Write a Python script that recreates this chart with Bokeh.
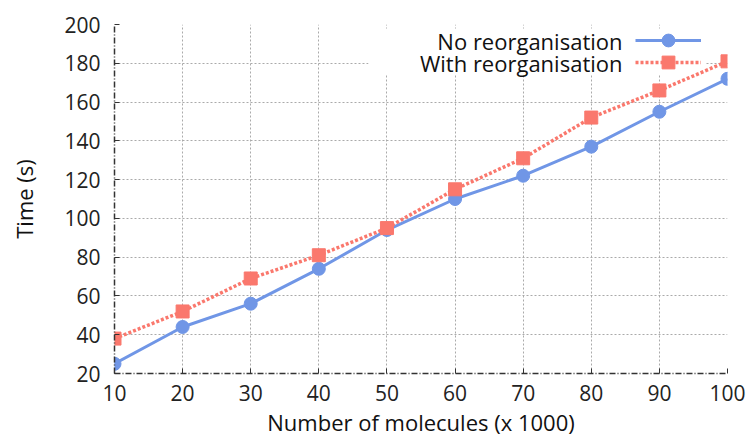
from bokeh.plotting import figure
from bokeh.models import Label, BoxAnnotation, Legend, LegendItem, Range1d, FixedTicker
from bokeh.embed import file_html
from bokeh.resources import INLINE

molecules = [10, 20, 30, 40, 50, 60, 70, 80, 90, 100]
no_reorg = [25, 44, 56, 74, 94, 110, 122, 137, 155, 172]
with_reorg = [38, 52, 69, 81, 95, 115, 131, 152, 166, 181]
x_ticks = [10, 20, 30, 40, 50, 60, 70, 80, 90, 100]
y_ticks = [20, 40, 60, 80, 100, 120, 140, 160, 180, 200]
series_names = ["No reorganisation", "With reorganisation"]
x_title = "Number of molecules (x 1000)"
y_title = "Time (s)"

BLUE = "#7096E6"
RED = "#FA786D"
FONT = "Open Sans"
W, H = 751, 439

p = figure(width=W, height=H, output_backend="svg", toolbar_location=None,
           x_range=Range1d(10, 100), y_range=Range1d(20, 200),
           min_border_left=114, min_border_right=24, min_border_top=24, min_border_bottom=66)
p.outline_line_color = None
p.background_fill_color = "white"

for ax in (p.xaxis[0], p.yaxis[0]):
    ax.axis_line_color = "#333333"
    ax.axis_line_dash = "6 2 1 2"
    ax.axis_line_width = 1.5
    ax.major_tick_in = 5
    ax.major_tick_out = 0
    ax.major_tick_line_color = "#333333"
    ax.minor_tick_line_color = None
    ax.major_label_text_font = FONT
    ax.major_label_text_font_size = "21px"
    ax.major_label_text_color = "#222222"
    ax.axis_label_text_font = FONT
    ax.axis_label_text_font_size = "22px"
    ax.axis_label_text_font_style = "normal"
    ax.axis_label_text_color = "#111111"

p.xaxis.ticker = FixedTicker(ticks=x_ticks)
p.yaxis.ticker = FixedTicker(ticks=y_ticks)
p.xaxis.axis_label = x_title
p.yaxis.axis_label = y_title
p.xaxis.major_label_text_line_height = 0.6
p.xaxis.axis_label_text_line_height = 0.6
p.xaxis.major_label_standoff = 11
p.xaxis.axis_label_standoff = 3
p.yaxis.major_label_standoff = 14
p.yaxis.axis_label_standoff = 22

for g in (p.xgrid[0], p.ygrid[0]):
    g.grid_line_color = "#aaaaaa"
    g.grid_line_dash = "2 2"
    g.grid_line_width = 1

# legend background (hides grid); screen units are frame-relative
p.add_layout(BoxAnnotation(left=254, right=591, top=345, bottom=299,
                           left_units="screen", right_units="screen",
                           top_units="screen", bottom_units="screen",
                           fill_color="white", fill_alpha=1, line_alpha=0, level="underlay"))

l1 = p.line(molecules, no_reorg, line_color=BLUE, line_width=3)
s1 = p.scatter(molecules, no_reorg, marker="circle", size=13, fill_color=BLUE, line_color=BLUE)
l2 = p.line(molecules, with_reorg, line_color=RED, line_width=3.5, line_dash="3 2")
s2 = p.scatter(molecules, with_reorg, marker="square", size=13, fill_color=RED, line_color=RED)

# one legend per row, glyph sample on the right of the text
for i, rs in enumerate([[l1, s1], [l2, s2]]):
    lg = Legend(items=[LegendItem(label=" ", renderers=rs)],
                location=(521, 317 - 22 * i), glyph_width=66, glyph_height=32, label_width=0,
                label_height=1, label_standoff=0, label_text_font_size="1px",
                padding=0, spacing=0, margin=0, border_line_alpha=0,
                background_fill_alpha=0)
    p.add_layout(lg, "center")

for i, name in enumerate(series_names):
    p.add_layout(Label(x=508, y=333 - 22 * i, x_units="screen", y_units="screen",
                       text=name, text_align="right", text_baseline="middle",
                       text_font=FONT, text_font_size="22px", text_color="#111111"))

open("out.html", "w").write(file_html(p, INLINE))
